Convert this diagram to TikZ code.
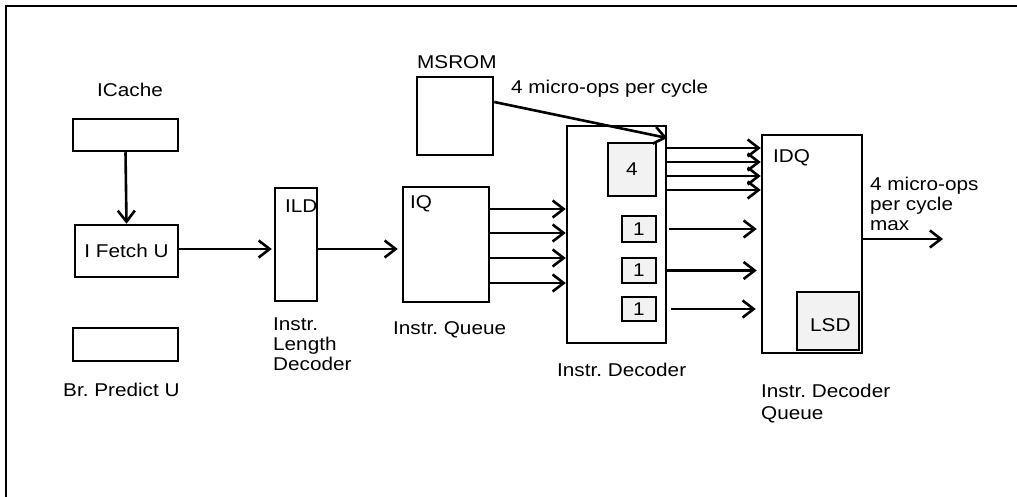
\documentclass[tikz,border=0pt]{standalone}
\usepackage{fontspec}
\setmainfont{Liberation Sans}[FakeStretch=1.12]
\usetikzlibrary{arrows.meta}
\frenchspacing
\begin{document}
\begin{tikzpicture}[x=1pt,y=-1pt,
  font=\fontsize{18.5}{20}\selectfont\frenchspacing,
  box/.style={draw,line width=2.5pt,inner sep=0pt,rectangle},
  gbox/.style={box,fill=black!5},
  lbl/.style={inner sep=0pt,anchor=base west},
  mlbl/.style={inner sep=0pt,anchor=north west,align=left},
  arr/.style={line width=2.6pt,-{Straight Barb[length=11pt,width=17pt,line width=2.6pt]}}]
\useasboundingbox (0,0) rectangle (1017,497);
% frame
\draw[line width=2.5pt] (6,500) -- (6,6) -- (1020,6);
% boxes
\node[box,minimum width=105pt,minimum height=32pt] (icache) at (125.5,135) {};
\node[box,minimum width=103pt,minimum height=52pt] (ifetch) at (126.5,251) {I Fetch U};
\node[box,minimum width=105pt,minimum height=33pt] (brpred) at (125.5,344.5) {};
\node[box,minimum width=42pt,minimum height=113pt] (ild) at (296,244.5) {};
\node[box,minimum width=86pt,minimum height=115pt] (iq) at (446,244.5) {};
\node[box,minimum width=76pt,minimum height=78pt] (msrom) at (455,116) {};
\node[box,minimum width=99pt,minimum height=217pt] (dec) at (616.5,234.5) {};
\node[gbox,minimum width=48pt,minimum height=53pt] (four) at (632,169.5) {4};
\node[gbox,minimum width=34pt,minimum height=26pt] (one1) at (639,229) {1};
\node[gbox,minimum width=34pt,minimum height=25pt] (one2) at (639,270.5) {1};
\node[gbox,minimum width=34pt,minimum height=24pt] (one3) at (639,309) {1};
\node[box,minimum width=100pt,minimum height=218pt] (idq) at (812,244) {};
\node[gbox,minimum width=62pt,minimum height=58pt] (lsd) at (828,321) {};
% labels
\node[inner sep=0pt,anchor=base] (licache) at (130,96.5) {ICache};
\node[lbl] (lbr) at (63,396.5) {Br. Predict U};
\node[lbl] (lild) at (285,213) {ILD};
\node[mlbl] (lildt) at (273,317.5) {Instr.\\Length\\Decoder};
\node[lbl] (liq) at (410,209) {IQ};
\node[lbl] (liqt) at (393,334.5) {Instr. Queue};
\node[lbl] (lmsrom) at (417,68.5) {MSROM};
\node[lbl] (lmops) at (511,94) {4 micro-ops per cycle};
\node[lbl] (ldec) at (557,376.5) {Instr. Decoder};
\node[lbl] (lidq) at (773,163) {IDQ};
\node[lbl] (llsd) at (810,331.5) {LSD};
\node[mlbl] (lmax) at (870,176.5) {4 micro-ops\\per cycle\\max};
\node[mlbl] (lidqt) at (761,383.5) {Instr. Decoder\\[2pt]Queue};
% connectors
\draw[arr] (icache.south) -- (ifetch.north);
\draw[arr,shorten >=2pt] (ifetch.east |- 0,249) -- (ild.west |- 0,249);
\draw[arr,shorten >=4pt] (ild.east |- 0,249) -- (iq.west |- 0,249);
\foreach \yy in {209,233,258,283}
  \draw[arr] (iq.east |- 0,\yy) -- (dec.west |- 0,\yy);
\draw[arr] (msrom.east |- 0,102) -- (dec.east |- 0,138);
\foreach \yy in {148,162,176,190}
  \draw[arr] (dec.east |- 0,\yy) -- (idq.west |- 0,\yy);
\draw[arr,shorten <=2pt,shorten >=4pt] (dec.east |- one1) -- (idq.west |- one1);
\draw[arr,shorten <=-2pt,shorten >=4pt] (dec.east |- one2) -- (idq.west |- one2);
\draw[arr,shorten <=4pt,shorten >=5pt] (dec.east |- one3) -- (idq.west |- one3);
\coordinate (out) at (943,239);
\draw[arr] (idq.east |- out) -- (out);
\end{tikzpicture}
\end{document}
